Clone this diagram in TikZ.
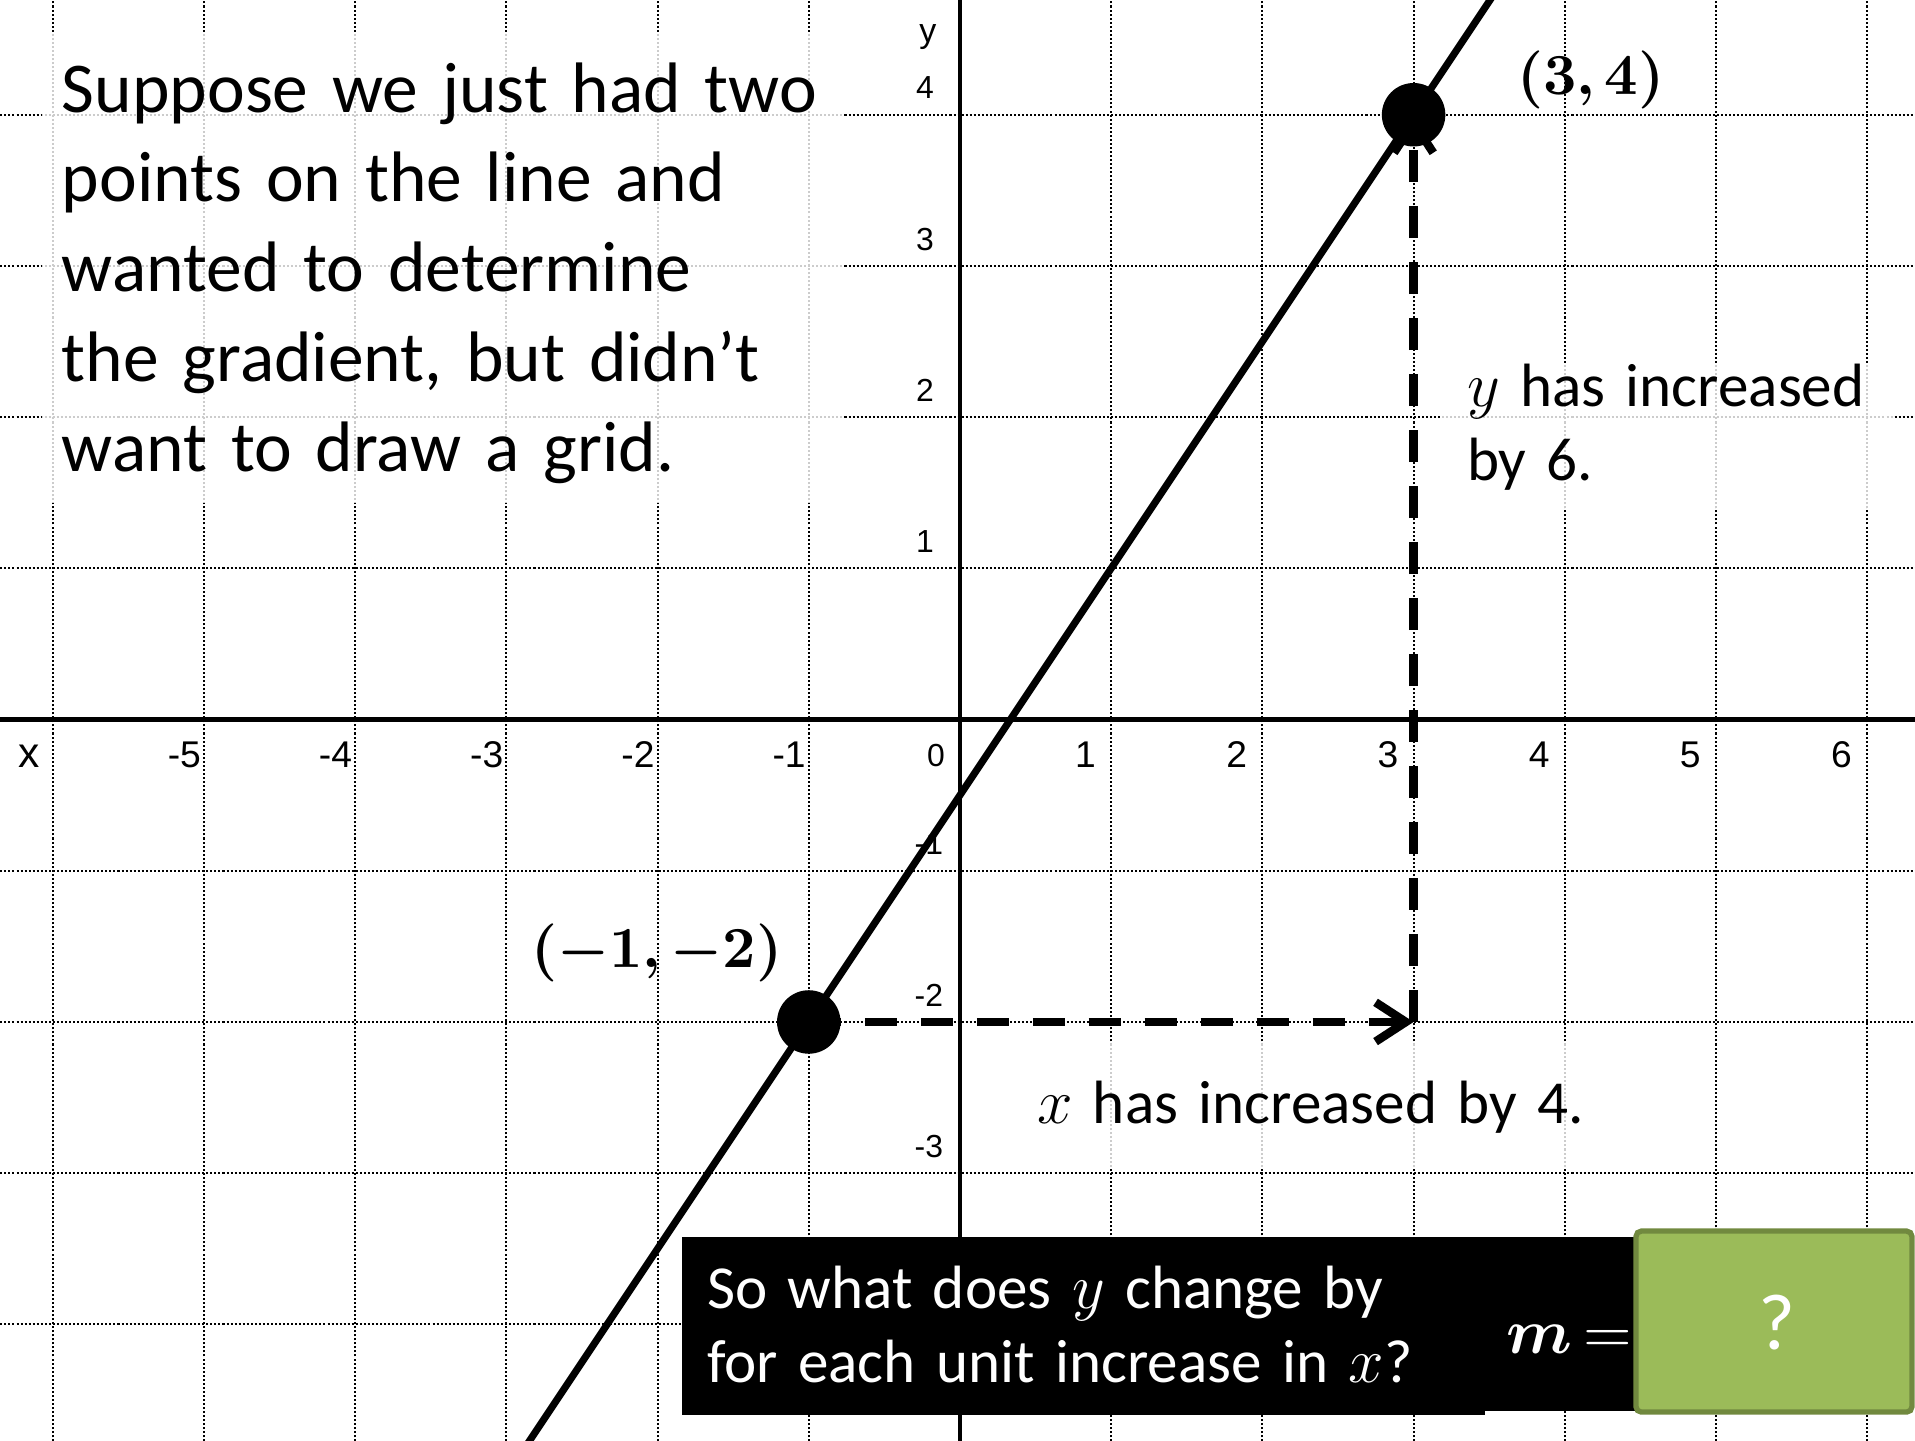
\documentclass[tikz,border=0pt]{standalone}
\usepackage[no-math]{fontspec}
\setmainfont{Carlito}
\newfontfamily\tickfont{Liberation Sans}
\usepackage{bm}
\usetikzlibrary{arrows.meta}
\definecolor{boxgreen}{HTML}{9BBB59}
\definecolor{boxgreenedge}{HTML}{71893F}
\begin{document}
\begin{tikzpicture}[x=1cm,y=1cm,
 gridline/.style={line width=0.38pt, dash pattern=on 0.38pt off 0.38pt},
 axisline/.style={line width=0.8pt},
 mainline/.style={line width=1.35pt},
 dasharrow/.style={line width=1.6pt, dash pattern=on 0.2116cm off 0.1587cm, -{Straight Barb[length=0.2cm,width=0.26cm]}},
 ptdot/.style={circle, fill=black, minimum size=0.42cm, inner sep=0pt},
 veil/.style={fill=white, fill opacity=0.8, draw=none},
 xlab/.style={font=\tickfont\fontsize{7pt}{8pt}\selectfont, anchor=base, inner sep=0pt},
 ylab/.style={font=\tickfont\fontsize{6pt}{7pt}\selectfont, anchor=base, inner sep=0pt},
 pointlab/.style={font=\fontsize{10.5pt}{12pt}\selectfont, anchor=base west, inner sep=0pt},
 note/.style={font=\fontsize{11.5pt}{14pt}\selectfont, anchor=base west, inner sep=0pt, align=left, text width=7cm},
]
\useasboundingbox (-6.349,-4.765) rectangle (6.316,4.759);
\clip (-6.349,-4.765) rectangle (6.316,4.759);
% grid
\foreach \i in {-6,...,6} \draw[gridline] (\i,-4.8) -- (\i,4.8);
\foreach \j in {-4,...,4} \draw[gridline] (-6.4,\j) -- (6.4,\j);
% translucent text backgrounds
\fill[veil] (-6.071,1.432) rectangle (-0.780,4.540);
\fill[veil] (3.188,1.399) rectangle (6.171,2.358);
\fill[veil] (0.344,-2.966) rectangle (4.233,-2.133);
% axes
\draw[axisline] (-6.4,0) -- (6.4,0);
\draw[axisline] (0,-4.8) -- (0,4.8);
% tick labels
\foreach \k in {-5,...,-1} \node[xlab] (xt\k) at (\k-0.13,-0.316) {\k};
\foreach \k in {1,...,6} \node[xlab] (xt\k) at (\k-0.17,-0.316) {\k};
\node[ylab] (xt0) at (-0.159,-0.312) {0};
\node[font=\tickfont\fontsize{8pt}{9pt}\selectfont, anchor=base, inner sep=0pt] (xname) at (-6.157,-0.316) {x};
\foreach \k in {1,...,4} \node[ylab] (yt\k) at (-0.232,\k+0.105) {\k};
\foreach \k in {-3,...,-1} \node[ylab, anchor=base east] (yt\k) at (-0.105,\k+0.105) {\k};
\node[font=\tickfont\fontsize{6.4pt}{7pt}\selectfont, anchor=base, inner sep=0pt] (yname) at (-0.212,4.48) {y};
% the line
\coordinate (L0) at (-3.3,-5.45);
\coordinate (L1) at (3.9,5.35);
\draw[mainline] (L0) -- (L1);
% points and increments
\coordinate (A) at (-1,-2);
\coordinate (B) at (3,4);
\coordinate (C) at (3,-2);
\draw[dasharrow] (A) -- (C);
\draw[dasharrow] (C) -- (B);
\node[ptdot] (dotA) at (A) {};
\node[ptdot] (dotB) at (B) {};
\node[pointlab] (labA) at (-2.844,-1.637) {$\bm{(-1,-2)}$};
\node[pointlab] (labB) at (3.677,4.137) {$\bm{(3,4)}$};
% texts
\node[font=\fontsize{13.45pt}{16.9pt}\selectfont, anchor=base west, inner sep=0pt, text width=7cm, align=left] (intro) at (-5.946,4.018) {Suppose we just had two\\points on the line and\\wanted to determine\\the gradient, but didn’t\\want to draw a grid.};
\node[note] (ynote) at (3.347,2.073) {$y$ has increased\\by 6.};
\node[note] (xnote) at (0.503,-2.669) {$x$ has increased by 4.};
% bottom question
\fill[black] (-1.839,-4.600) rectangle (3.472,-3.423);
\fill[black] (3.472,-4.573) rectangle (4.478,-3.423);
\node[note, text=white] (qtext) at (-1.680,-3.893) {So what does $y$ change by\\for each unit increase in $x$?};
\node[font=\fontsize{13pt}{15pt}\selectfont, text=white, anchor=base west, inner sep=0pt] (meq) at (3.61,-4.19) {$\bm{m}\,{=}$};
\draw[line width=1pt, draw=boxgreenedge, fill=boxgreen, rounded corners=1pt] (4.471,-4.580) rectangle (6.296,-3.383);
\node[font=\fontsize{15pt}{18pt}\selectfont, text=white] (qmark) at (5.403,-3.988) {?};
\end{tikzpicture}
\end{document}
